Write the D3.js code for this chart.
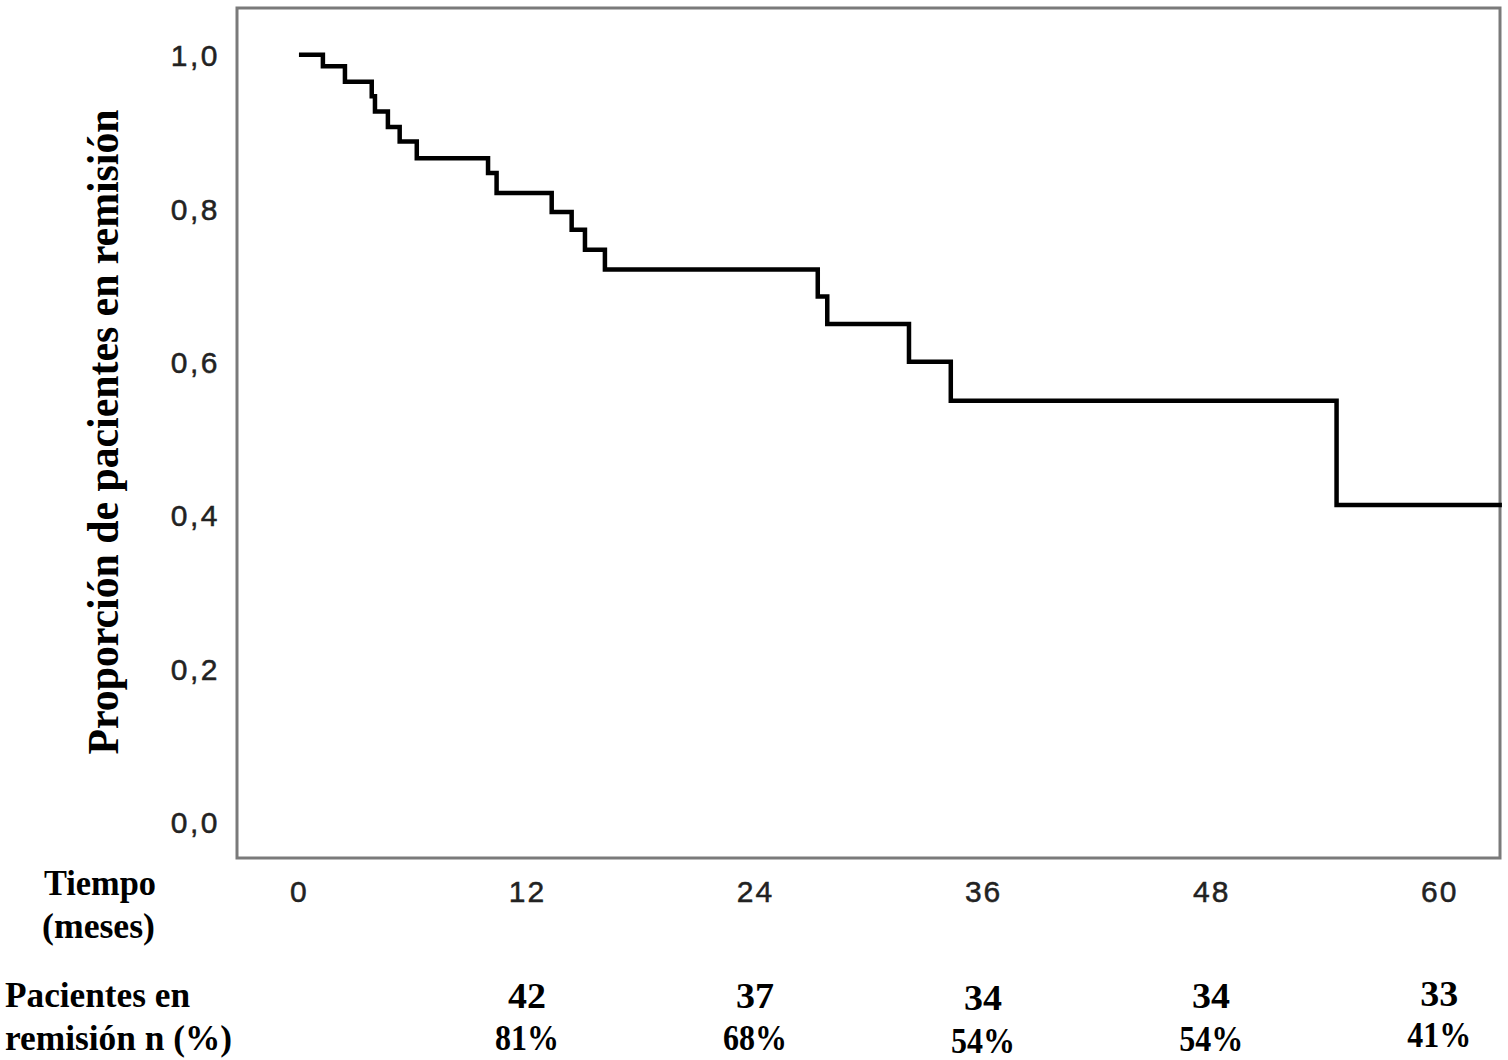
<!DOCTYPE html>
<html><head><meta charset="utf-8">
<script src="https://cdn.jsdelivr.net/npm/d3@7"></script>
<style>body{margin:0;background:#fff}svg{display:block}</style>
</head><body><svg id="c" width="1508" height="1060"></svg>
<script>
// Kaplan-Meier step data (months, proportion in remission)
const stepTimes  = [0, 1.26, 2.42, 3.83, 4.0, 4.68, 5.3, 6.2, 9.95, 10.4, 13.3, 14.35, 15.05, 16.1, 27.3, 27.8, 32.1, 34.3, 54.6, 63.3];
const stepValues = [1.0, 0.985, 0.965, 0.946, 0.926, 0.906, 0.887, 0.865, 0.846, 0.82, 0.795, 0.772, 0.746, 0.72, 0.685, 0.649, 0.60, 0.549, 0.413, 0.413];
const xTicks = [0, 12, 24, 36, 48, 60];
const yTicks = [0, 0.2, 0.4, 0.6, 0.8, 1.0];
const riskTimes = [12, 24, 36, 48, 60];
const riskN = ["42", "37", "34", "34", "33"];
const riskPct = ["81%", "68%", "54%", "54%", "41%"];

const svg = d3.select("#c");
const L = 237, R = 1500, T = 8, B = 858;
const x = d3.scaleLinear().domain([-3.26, 63.2]).range([L, R]);
const y = d3.scaleLinear().domain([-0.047, 1.061]).range([B, T]);

// frame
svg.append("rect").attr("x", L).attr("y", T).attr("width", R - L).attr("height", B - T)
  .attr("fill", "none").attr("stroke", "#7a7a7a").attr("stroke-width", 3);

const sans = "Liberation Sans, Arial, sans-serif";
// y tick labels
const yAxis = d3.axisLeft(y).tickValues(yTicks).tickSize(0).tickPadding(0)
  .tickFormat(d => d3.format(".1f")(d).replace(".", ","));
const gy = svg.append("g").attr("transform", `translate(${L - 17},0)`).call(yAxis);
gy.select(".domain").remove();
gy.selectAll("text").attr("font-family", sans).attr("font-size", 30).attr("fill", "#222")
  .attr("stroke", "#222").attr("stroke-width", 0.5)
  .attr("letter-spacing", 2.5).attr("dy", "0.36em");

// x tick labels
const xAxis = d3.axisBottom(x).tickValues(xTicks).tickSize(0).tickPadding(0).tickFormat(d3.format("d"));
const gx = svg.append("g").attr("transform", `translate(0,${B + 33})`).call(xAxis);
gx.select(".domain").remove();
gx.selectAll("text").attr("font-family", sans).attr("font-size", 30).attr("fill", "#222")
  .attr("stroke", "#222").attr("stroke-width", 0.5)
  .attr("letter-spacing", 2).attr("dy", "0.36em");

// KM curve
const pts = stepTimes.map((t, i) => [t, stepValues[i]]);
svg.append("path").datum(pts)
  .attr("d", d3.line().x(d => x(d[0])).y(d => y(d[1])).curve(d3.curveStepAfter))
  .attr("fill", "none").attr("stroke", "#000").attr("stroke-width", 4.5)
  .attr("stroke-linejoin", "miter").attr("stroke-linecap", "butt");

// y-axis title
const serif = "Liberation Serif, 'Times New Roman', serif";
svg.append("text").attr("transform", "translate(118,432) rotate(-90)")
  .attr("text-anchor", "middle").attr("font-family", serif).attr("font-weight", "bold")
  .attr("font-size", 45).attr("textLength", 645).attr("lengthAdjust", "spacingAndGlyphs")
  .attr("fill", "#000").text("Proporción de pacientes en remisión");

// left labels
function lab(t, xx, yy, w) {
  svg.append("text").attr("x", xx).attr("y", yy).attr("font-family", serif).attr("font-weight", "bold")
    .attr("font-size", 36).attr("textLength", w).attr("lengthAdjust", "spacingAndGlyphs")
    .attr("fill", "#000").text(t);
}
lab("Tiempo", 44, 895, 112);
lab("(meses)", 42, 938, 113);
lab("Pacientes en", 5, 1007, 185);
lab("remisión n (%)", 5, 1050, 227);

// number at risk
const rowN = [1008, 1008, 1010, 1008, 1006];
const rowP = [1050, 1050, 1053, 1051, 1047];
const wN = 38, wP = 64;
riskTimes.forEach((t, i) => {
  svg.append("text").attr("x", x(t) - wN / 2).attr("y", rowN[i])
    .attr("font-family", serif).attr("font-weight", "bold").attr("font-size", 36).attr("fill", "#000")
    .attr("textLength", wN).attr("lengthAdjust", "spacingAndGlyphs")
    .text(riskN[i]);
  svg.append("text").attr("x", x(t) - wP / 2).attr("y", rowP[i])
    .attr("font-family", serif).attr("font-weight", "bold").attr("font-size", 36).attr("fill", "#000")
    .attr("textLength", wP).attr("lengthAdjust", "spacingAndGlyphs")
    .text(riskPct[i]);
});
</script></body></html>
